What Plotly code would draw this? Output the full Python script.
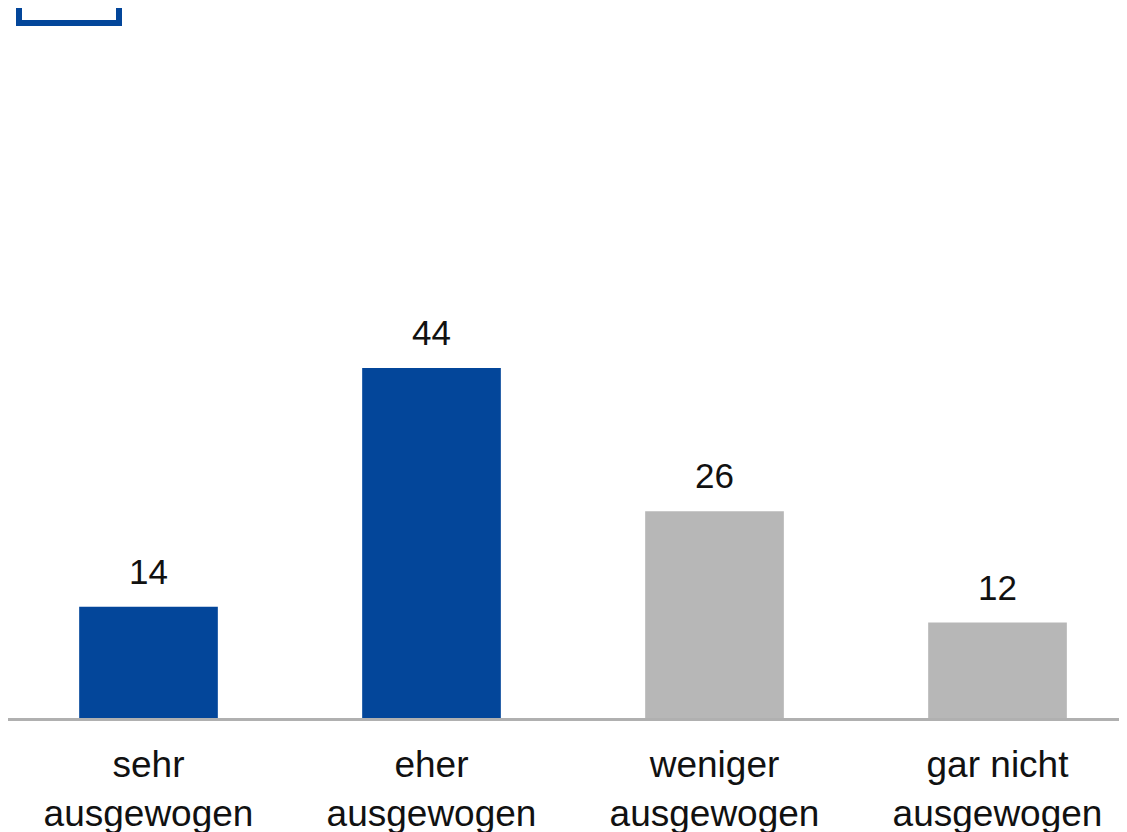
import plotly.graph_objects as go

categories = ["sehr<br>ausgewogen", "eher<br>ausgewogen", "weniger<br>ausgewogen", "gar nicht<br>ausgewogen"]
values = [14, 44, 26, 12]
bar_colors = ["#03469A", "#03469A", "#B7B7B7", "#B7B7B7"]

BLUE = "#03469A"
FONT = "Liberation Sans, Arial, sans-serif"

W, H = 1140, 832
L, R, T, B = 0, 0, 0, 122
plot_w = W - L - R
plot_h = H - T - B
step = 283  # pixels per category
first_center = 140.5

fig = go.Figure()
fig.add_trace(
    go.Bar(
        x=list(range(len(categories))),
        y=values,
        marker=dict(color=bar_colors, line=dict(width=0)),
        width=0.49,
        hoverinfo="skip",
        showlegend=False,
    )
)

# value labels above bars
for i, v in enumerate(values):
    fig.add_annotation(
        x=i, y=v, text=str(v), showarrow=False,
        yanchor="bottom", yshift=14,
        font=dict(family=FONT, size=35, color="#111111"),
    )

# partially visible frame in the top-left corner
fig.add_shape(
    type="rect", xref="paper", yref="paper",
    x0=11 / plot_w, x1=111 / plot_w,
    y0=(plot_h - 15) / plot_h, y1=1.1,
    line=dict(color=BLUE, width=6),
    fillcolor="rgba(0,0,0,0)",
)

fig.update_layout(
    width=W, height=H,
    margin=dict(l=L, r=R, t=T, b=B, pad=0),
    paper_bgcolor="white", plot_bgcolor="white",
    font=dict(family=FONT, size=35, color="#111111"),
    xaxis=dict(
        range=[-first_center / step, (plot_w - first_center) / step],
        tickmode="array",
        tickvals=list(range(len(categories))),
        ticktext=categories,
        showgrid=False, zeroline=False,
        showline=True, linecolor="#B0B0B0", linewidth=3,
        ticks="", ticklabelstandoff=12,
        tickfont=dict(family=FONT, size=37, color="#111111"),
    ),
    yaxis=dict(
        range=[0, plot_h / (350 / 44)],
        visible=False, showgrid=False, zeroline=False,
    ),
)

fig.write_html("out.html")
